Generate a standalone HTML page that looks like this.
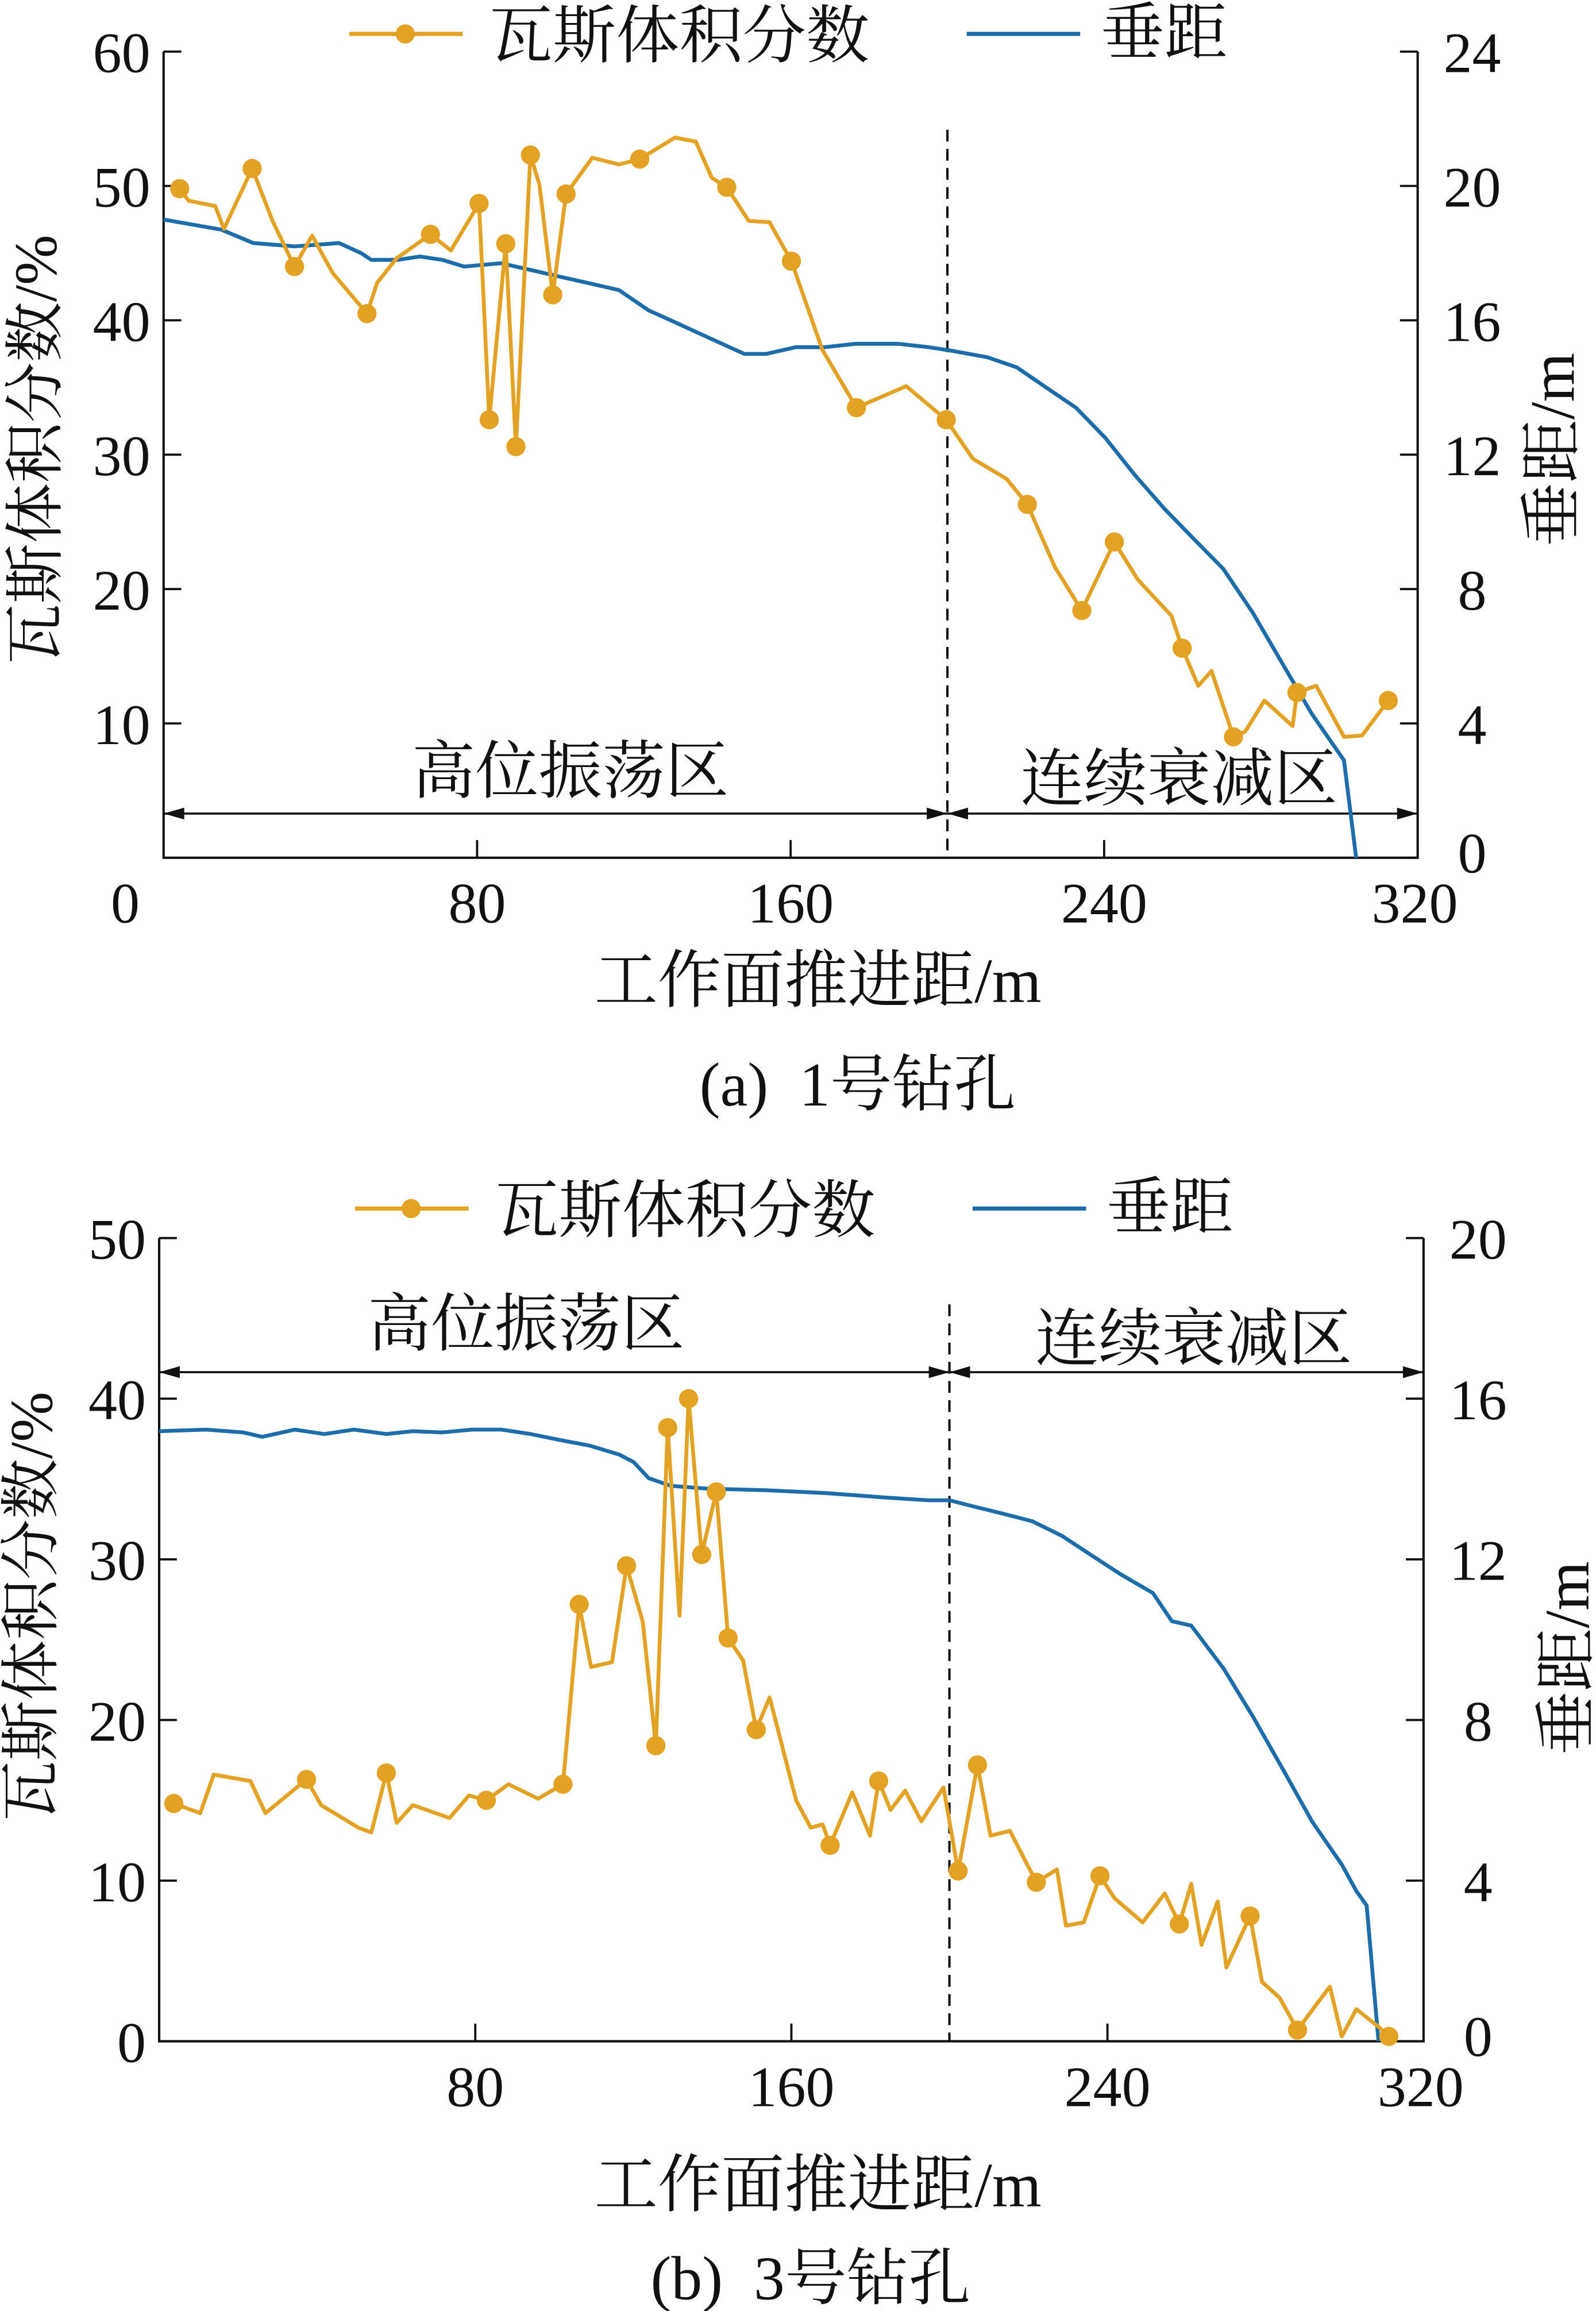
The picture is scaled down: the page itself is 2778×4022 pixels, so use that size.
<!DOCTYPE html>
<html><head><meta charset="utf-8">
<style>
html,body{margin:0;padding:0;background:#fff;}
svg{display:block;}
text{font-family:"Liberation Serif","Noto Serif CJK SC","Noto Sans CJK SC",serif;fill:#111;white-space:pre;}
</style></head>
<body>
<svg id="svg" xmlns="http://www.w3.org/2000/svg" width="2778" height="4022" viewBox="0 0 1083 1568"></svg>
<script>
// ---- Chart (a) data ----
const aGasX=[4.1,6.4,13.2,15.4,22.6,27.8,33.4,37.9,43.2,51.9,54.5,59.4,68.1,73.3,80.5,83.1,87.3,89.9,93.6,95.9,99.3,102.7,109.4,116.2,121.5,130.5,135.8,139.9,143.7,149.3,154.6,160.2,168.1,176.8,189.5,199.7,206.5,215.1,220.4,227.5,234.3,242.6,248.6,257.2,259.9,264.0,267.4,273.0,276.0,280.9,288.1,289.2,294.1,301.2,305.8,312.5];
const aGasY=[49.8,48.9,48.5,46.8,51.3,47.4,44.0,46.3,43.5,40.5,42.8,44.6,46.4,45.2,48.7,32.6,45.7,30.6,52.3,50.1,41.9,49.4,52.1,51.6,52.0,53.6,53.3,50.6,49.9,47.4,47.3,44.4,37.8,33.5,35.1,32.6,29.7,28.2,26.3,21.6,18.4,23.5,20.7,18.0,15.6,12.8,13.9,9.0,9.4,11.7,9.8,12.3,12.8,9.0,9.1,11.7];
const aGasMarker=[1,0,0,0,1,0,1,0,0,1,0,0,1,0,1,1,1,1,1,0,1,1,0,0,1,0,0,0,1,0,0,1,0,1,0,1,0,0,1,0,1,1,0,0,1,0,0,1,0,0,0,1,0,0,0,1];
const aDistX=[0,14.7,22.9,33.5,44.8,50.4,53.0,59.8,65.4,71.1,76.7,86.1,93.6,101.1,108.7,116.2,123.7,129.4,136.9,144.4,148.2,153.8,161.3,168.8,176.4,187.6,195.2,200.8,210.2,217.7,225.2,232.8,240.3,247.8,255.3,262.8,270.4,277.9,285.4,292.9,301.2,304.3];
const aDistY=[19.0,18.7,18.3,18.2,18.3,18.0,17.8,17.8,17.9,17.8,17.6,17.7,17.5,17.3,17.1,16.9,16.3,16.0,15.6,15.2,15.0,15.0,15.2,15.2,15.3,15.3,15.2,15.1,14.9,14.6,14.0,13.4,12.5,11.4,10.4,9.5,8.6,7.3,5.8,4.3,2.9,0];
const aLeftTicks=[10,20,30,40,50,60];
const aRightTicks=[0,4,8,12,16,20,24];
const aXTicks=[0,80,160,240,320];
// ---- Chart (b) data ----
const bGasX=[3.7,10.4,13.8,23.1,26.9,37.3,41.0,50.4,53.7,57.5,60.1,64.2,73.5,78.4,82.8,88.4,95.9,102.2,106.3,109.3,114.6,118.3,122.4,125.7,128.7,131.7,134.0,137.3,141.0,144.0,147.8,151.1,154.5,161.2,164.9,167.9,169.8,175.4,179.9,182.1,185.1,188.8,192.9,198.5,202.2,207.1,210.4,215.3,222.0,227.2,229.5,234.0,238.1,241.8,248.9,254.5,258.2,261.2,263.8,267.9,270.1,276.1,279.1,283.6,288.1,292.9,296.3,299.3,303.0,308.6,311.2];
const bGasY=[14.8,14.2,16.6,16.2,14.2,16.3,14.7,13.3,13.0,16.7,13.6,14.7,13.9,15.3,15.0,16.0,15.1,16.0,27.2,23.3,23.6,29.6,26.1,18.4,38.2,26.5,40.0,30.3,34.2,25.1,23.7,19.4,21.4,15.0,13.3,13.5,12.2,15.5,12.8,16.2,14.4,15.6,13.7,15.8,10.6,17.2,12.8,13.1,9.9,10.7,7.2,7.4,10.3,8.9,7.4,9.2,7.3,9.8,6.0,8.7,4.6,7.8,3.7,2.7,0.7,2.3,3.4,0.3,2.0,0.9,0.3];
const bGasMarker=[1,0,0,0,0,1,0,0,0,1,0,0,0,0,1,0,0,1,1,0,0,1,0,1,1,0,1,1,1,1,0,1,0,0,0,0,1,0,0,1,0,0,0,0,1,1,0,0,1,0,0,0,1,0,0,0,1,0,0,0,0,1,0,0,1,0,0,0,0,0,1];
const bDistX=[0,11.9,21.3,26.1,34.3,41.8,49.3,57.5,64.2,71.6,79.1,86.6,94.0,101.5,109.0,116.4,120.1,123.9,129.5,138.8,153.7,168.7,183.6,194.8,200,206.0,213.4,220.9,228.4,235.8,243.3,251.5,256.3,261.2,269.4,276.9,284.3,291.8,299.3,303.0,305.6,308.6];
const bDistY=[15.19,15.23,15.16,15.05,15.23,15.12,15.23,15.12,15.19,15.16,15.23,15.23,15.12,14.97,14.83,14.61,14.42,14.02,13.83,13.76,13.72,13.65,13.54,13.47,13.47,13.32,13.14,12.95,12.59,12.11,11.63,11.16,10.46,10.35,9.28,8.07,6.79,5.47,4.40,3.74,3.38,0];
const bLeftTicks=[0,10,20,30,40,50];
const bRightTicks=[0,4,8,12,16,20];
const bXTicks=[80,160,240,320];

const NS="http://www.w3.org/2000/svg";
const svg=document.getElementById('svg');
const ORANGE="#E3A224", BLUE="#1C6DAA";
function mk(tag,attrs,parent,txt){const e=document.createElementNS(NS,tag);for(const k in attrs)e.setAttribute(k,attrs[k]);if(txt!==undefined)e.textContent=txt;(parent||svg).appendChild(e);return e;}

function chart(o){
  const g=mk('g',{});
  
  
  const sx=v=>o.L+(v-0)/320*(o.R-o.L);
  const sy=v=>o.B-v/o.yMax*(o.B-o.T);
  const sr=v=>o.B-v/o.rMax*(o.B-o.T);
  const ax=mk('path',{d:`M${o.L},${o.T} V${o.B} H${o.R} V${o.T}`,fill:'none',stroke:'#111','stroke-width':1.6},g);
  
  
  o.leftTicks.forEach(v=>{
    mk('line',{x1:o.L,x2:o.L+12,y1:sy(v),y2:sy(v),stroke:'#111','stroke-width':1.5},g);
    const t=mk('text',{x:o.L-9,y:sy(v)+14,'font-size':39,'text-anchor':'end'},g,String(v));
    
    
  });
  o.rightTicks.forEach(v=>{
    mk('line',{x1:o.R,x2:o.R-12,y1:sr(v),y2:sr(v),stroke:'#111','stroke-width':1.5},g);
    const t=mk('text',{x:o.R+37,y:sr(v)+14+(v===0?-4:0),'font-size':39,'text-anchor':'middle'},g,String(v));
    
    
  });
  o.xTicks.forEach(v=>{
    if(v>0&&v<320) mk('line',{x1:sx(v),x2:sx(v),y1:o.B,y2:o.B-12,stroke:'#111','stroke-width':1.5},g);
    const xx=v===0?85:sx(v)-(v===320?2:0);
    const t=mk('text',{x:xx,y:o.B+44,'font-size':39,'text-anchor':'middle'},g,String(v));
    
    
  });
  const dl=mk('line',{x1:sx(200),x2:sx(200),y1:o.dashTop,y2:o.B,stroke:'#111','stroke-width':1.6,'stroke-dasharray':'8,5'},g);
  
  
  const ay=o.arrowY;
  [[o.L,sx(200)],[sx(200),o.R]].forEach(([a,b])=>{
    const ar=mk('g',{},g);
    
    
    mk('line',{x1:a,x2:b,y1:ay,y2:ay,stroke:'#111','stroke-width':1.4},ar);
    mk('path',{d:`M${a},${ay} l14,-4 v8 z M${b},${ay} l-14,-4 v8 z`,fill:'#111'},ar);
  });
  const z1=mk('text',{x:o.z1x,y:o.z1y,'font-size':43,'text-anchor':'middle'},g,'高位振荡区');
  
  
  const z2=mk('text',{x:o.z2x,y:o.z2y,'font-size':43,'text-anchor':'middle'},g,'连续衰减区');
  
  
  const bp=mk('polyline',{points:o.dX.map((x,i)=>sx(x)+','+sr(o.dY[i])).join(' '),fill:'none',stroke:BLUE,'stroke-width':2.6,'stroke-linejoin':'round'},g);
  
  
  const op=mk('polyline',{points:o.gX.map((x,i)=>sx(x)+','+sy(o.gY[i])).join(' '),fill:'none',stroke:ORANGE,'stroke-width':2.6,'stroke-linejoin':'round'},g);
  
  
  o.gX.forEach((x,i)=>{ if(o.gM[i]){
    const c=mk('circle',{cx:sx(x),cy:sy(o.gY[i]),r:6.5,fill:ORANGE},g);
    
    
  }});
  const lg=mk('g',{},g);
  
  
  mk('line',{x1:o.legX,x2:o.legX+77,y1:o.legY,y2:o.legY,stroke:ORANGE,'stroke-width':2.8},lg);
  mk('circle',{cx:o.legX+38,cy:o.legY,r:6.5,fill:ORANGE},lg);
  mk('text',{x:o.legX+95,y:o.legY+16,'font-size':43},lg,'瓦斯体积分数');
  mk('line',{x1:o.legX+419,x2:o.legX+496,y1:o.legY,y2:o.legY,stroke:BLUE,'stroke-width':2.8},lg);
  mk('text',{x:o.legX+510,y:o.legY+14,'font-size':43},lg,'垂距');
  const yt=mk('text',{x:0,y:0,'font-size':41,'text-anchor':'middle',transform:`translate(${o.ytX},${o.ytY}) rotate(-90)`},g,'瓦斯体积分数/%');
  
  
  const rt=mk('text',{x:0,y:0,'font-size':43,'text-anchor':'middle',transform:`translate(${o.rtX},${o.rtY}) rotate(-90)`},g,'垂距/m');
  
  
  const xt=mk('text',{x:555,y:o.xtY,'font-size':43,'text-anchor':'middle'},g,'工作面推进距/m');
  
  
  const cp=mk('text',{x:o.capX,y:o.capY,'font-size':42,'text-anchor':'middle'},g,o.cap);
  
  
}

chart({name:'chart-a-borehole-1',L:111,R:962,T:35,B:582,yMax:60,rMax:24,
  leftTicks:aLeftTicks,rightTicks:aRightTicks,xTicks:aXTicks,
  gX:aGasX,gY:aGasY,gM:aGasMarker,dX:aDistX,dY:aDistY,
  dashTop:88,arrowY:552,z1x:387,z1y:538,z2x:800,z2y:543,
  legX:237,legY:23,ytX:38,ytY:305,rtX:1068,rtY:305,xtY:680,capX:582,capY:750,cap:'(a)  1号钻孔'});
chart({name:'chart-b-borehole-3',L:108,R:966,T:840,B:1385,yMax:50,rMax:20,
  leftTicks:bLeftTicks,rightTicks:bRightTicks,xTicks:bXTicks,
  gX:bGasX,gY:bGasY,gM:bGasMarker,dX:bDistX,dY:bDistY,
  dashTop:885,arrowY:931,z1x:357,z1y:913,z2x:810,z2y:923,
  legX:241,legY:820,ytX:35,ytY:1090,rtX:1078,rtY:1125,xtY:1497,capX:550,capY:1560,cap:'(b)  3号钻孔'});
</script>
</body></html>
